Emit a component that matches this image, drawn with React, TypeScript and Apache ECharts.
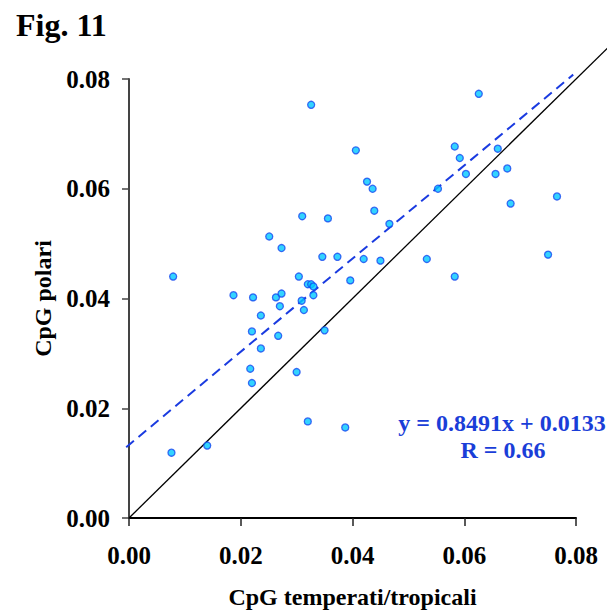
import React, { useEffect, useRef } from "react";
import * as echarts from "echarts";

const temperatiX = [
  0.0326, 0.0406, 0.0426, 0.031, 0.0356, 0.0251, 0.0273, 0.0346, 0.0373, 0.042,
  0.0079, 0.0304, 0.0626, 0.0583, 0.066, 0.0592, 0.0603, 0.0656, 0.0677, 0.0436,
  0.0553, 0.0439, 0.0766, 0.0683, 0.0466, 0.045, 0.0533, 0.075, 0.0583, 0.032,
  0.0326, 0.033, 0.0396, 0.0187, 0.0222, 0.0263, 0.0273, 0.033, 0.0309, 0.027,
  0.0313, 0.0236, 0.022, 0.0267, 0.035, 0.0236, 0.0217, 0.03, 0.022, 0.032,
  0.0387, 0.0076, 0.014,
];
const polariY = [
  0.0753, 0.067, 0.0613, 0.055, 0.0546, 0.0513, 0.0492, 0.0476, 0.0476, 0.0472,
  0.044, 0.044, 0.0773, 0.0677, 0.0673, 0.0656, 0.0627, 0.0627, 0.0637, 0.06,
  0.06, 0.056, 0.0586, 0.0573, 0.0536, 0.0469, 0.0472, 0.048, 0.044, 0.0426,
  0.0426, 0.0422, 0.0433, 0.0406, 0.0402, 0.0402, 0.0409, 0.0406, 0.0396, 0.0386,
  0.0379, 0.0369, 0.034, 0.0332, 0.0342, 0.0309, 0.0272, 0.0266, 0.0246, 0.0176,
  0.0165, 0.0119, 0.0132,
];
// regression line endpoints (x1, y1, x2, y2)
const fitLine = [-0.0005, 0.0129, 0.0795, 0.0808];
// identity line y = x endpoints (x1, y1, x2, y2)
const identityLine = [0, 0, 0.09, 0.09];
const equationText = "y = 0.8491x + 0.0133";
const rText = "R = 0.66";

const FONT = "'Liberation Serif', 'Times New Roman', serif";

function segmentSeries(seg: number[], style: any, z: number) {
  return {
    type: "custom",
    clip: false,
    silent: true,
    z,
    encode: { x: [0, 2], y: [1, 3] },
    data: [seg],
    renderItem: (_params: any, api: any) => {
      const p1 = api.coord([api.value(0), api.value(1)]);
      const p2 = api.coord([api.value(2), api.value(3)]);
      return {
        type: "line",
        shape: { x1: p1[0], y1: p1[1], x2: p2[0], y2: p2[1] },
        style,
      };
    },
  };
}

export default function App() {
  const ref = useRef<HTMLDivElement>(null);
  useEffect(() => {
    if (!ref.current) return;
    const chart = echarts.init(ref.current, undefined, { renderer: "svg" });
    const fmt = (v: number) => v.toFixed(2);
    chart.setOption({
      animation: false,
      backgroundColor: "#fff",
      title: {
        text: "Fig. 11",
        left: 11,
        top: 4,
        textStyle: { fontFamily: FONT, fontWeight: "bold", fontSize: 32, color: "#000" },
      },
      grid: { left: 129, right: 31, top: 79, bottom: 93 },
      xAxis: {
        type: "value",
        min: 0,
        max: 0.08,
        interval: 0.02,
        name: "CpG temperati/tropicali",
        nameLocation: "middle",
        nameGap: 67,
        nameTextStyle: { fontFamily: FONT, fontWeight: "bold", fontSize: 24, color: "#000" },
        axisLine: { lineStyle: { color: "#000", width: 2 } },
        axisTick: { show: true, inside: false, length: 8, lineStyle: { color: "#222", width: 1.5 } },
        axisLabel: { formatter: fmt, margin: 25, fontFamily: FONT, fontWeight: "bold", fontSize: 25, color: "#000" },
        splitLine: { show: false },
      },
      yAxis: {
        type: "value",
        min: 0,
        max: 0.08,
        interval: 0.02,
        name: "CpG polari",
        nameLocation: "middle",
        nameRotate: 90,
        nameGap: 71,
        nameTextStyle: { fontFamily: FONT, fontWeight: "bold", fontSize: 24, color: "#000" },
        axisLine: { lineStyle: { color: "#444", width: 2 } },
        axisTick: { show: true, inside: false, length: 7, lineStyle: { color: "#444", width: 1.5 } },
        axisLabel: { formatter: fmt, margin: 19, fontFamily: FONT, fontWeight: "bold", fontSize: 25, color: "#000" },
        splitLine: { show: false },
      },
      series: [
        segmentSeries(identityLine, { stroke: "#000", lineWidth: 1.3 }, 1),
        segmentSeries(fitLine, { stroke: "#1a3be0", lineWidth: 2, lineDash: [10, 6] }, 2),
        {
          type: "scatter",
          data: temperatiX.map((x, i) => [x, polariY[i]]),
          symbol: "circle",
          symbolSize: 7,
          itemStyle: { color: "#00c8ff", borderColor: "#1548f0", borderWidth: 1.3 },
          z: 3,
        },
      ],
      graphic: [
        {
          type: "text",
          x: 502,
          y: 423,
          style: {
            text: equationText,
            fontFamily: FONT,
            fontWeight: "bold",
            fontSize: 24,
            fill: "#1a3ed8",
            textAlign: "center",
            textVerticalAlign: "middle",
          },
        },
        {
          type: "text",
          x: 503,
          y: 450,
          style: {
            text: rText,
            fontFamily: FONT,
            fontWeight: "bold",
            fontSize: 24,
            fill: "#1a3ed8",
            textAlign: "center",
            textVerticalAlign: "middle",
          },
        },
      ],
    });
    return () => chart.dispose();
  }, []);
  return <div ref={ref} style={{ width: 607, height: 614, position: "absolute", left: 0, top: 0 }} />;
}
